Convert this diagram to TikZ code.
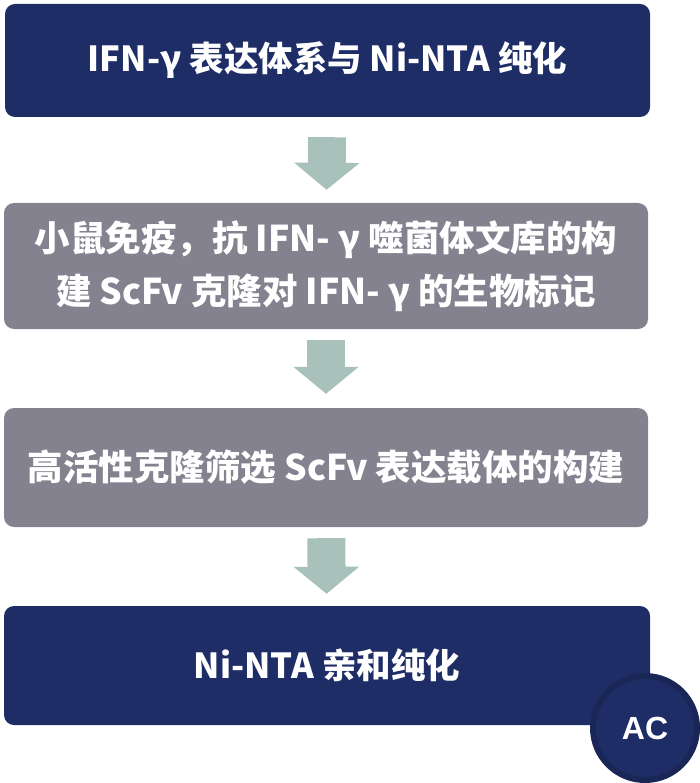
\documentclass[tikz,border=0pt]{standalone}
\usepackage{fontspec}
\usepackage{tikz}
\usetikzlibrary{arrows.meta}
\newfontfamily\cjk{Noto Sans CJK SC}
\newfontfamily\acfont{Liberation Sans}
\definecolor{navy}{HTML}{1E2D66}
\definecolor{navyring}{HTML}{1A2756}
\definecolor{greybox}{HTML}{858290}
\definecolor{sage}{HTML}{A8C1BB}
\begin{document}
\begin{tikzpicture}[x=1pt, y=-1pt,
  box/.style={rectangle, rounded corners=10pt, minimum width=645pt, align=center,
    text=white, font=\cjk\bfseries\fontsize{34.5}{53}\selectfont, inner sep=0pt},
  wide/.style={font=\cjk\bfseries\fontsize{35.5}{53}\selectfont},
  flow/.style={draw=sage, line width=38pt, -{Triangle[width=64pt, length=27pt]}}]
  \useasboundingbox (0,0) rectangle (700,783);
  \node[box, fill=navy, minimum height=113pt] (1) at (327.5,60.5) {IFN-γ 表达体系与 Ni-NTA 纯化};
  \node[box, wide, fill=greybox, minimum width=644pt, minimum height=126pt] (2) at (326,266) {小鼠免疫，抗 IFN- γ 噬菌体文库的构\\建 ScFv 克隆对 IFN- γ 的生物标记};
  \node[box, wide, fill=greybox, minimum width=644pt, minimum height=119pt] (3) at (326,467.5) {高活性克隆筛选 ScFv 表达载体的构建};
  \node[box, fill=navy, minimum width=646pt, minimum height=119pt] (4) at (327,665.5) {Ni-NTA 亲和纯化};
  \node[circle, fill=navy, draw=navyring, line width=6pt, minimum size=104pt, inner sep=0pt,
    text=white, font=\acfont\bfseries\fontsize{32}{33}\selectfont] (ac) at (645,728) {AC};
  \draw[flow, shorten <=20pt, shorten >=13pt] (1) -- (2);
  \draw[flow, shorten <=11pt, shorten >=14pt] (2) -- (3);
  \draw[flow, shorten <=11pt, shorten >=12pt] (3) -- (4);
\end{tikzpicture}
\end{document}
